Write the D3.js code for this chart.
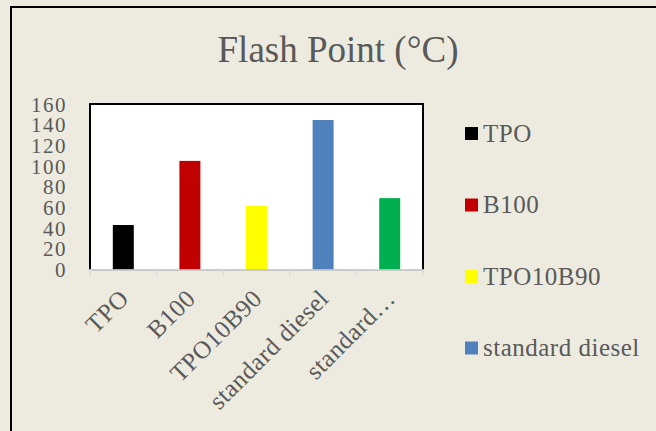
<!DOCTYPE html>
<html><head><meta charset="utf-8">
<script src="https://cdn.jsdelivr.net/npm/d3@7"></script>
<style>html,body{margin:0;padding:0;background:#EDEBE0;overflow:hidden}</style>
</head><body>
<svg id="c" width="656" height="431"></svg>
<script>
const categories = ["TPO", "B100", "TPO10B90", "standard diesel", "standard…"];
const values = [43, 105, 61.5, 144.5, 69];
const colors = ["#000000", "#C00000", "#FFFF00", "#4F81BD", "#00B050"];
const legendLabels = ["TPO", "B100", "TPO10B90", "standard diesel"];
const yTicks = [0, 20, 40, 60, 80, 100, 120, 140, 160];
const title = "Flash Point (°C)";

(function () {
const font = "'Liberation Serif', 'Times New Roman', serif";
const textColor = "#595959";
const svg = d3.select("#c");

svg.append("rect").attr("x", 0).attr("y", 0).attr("width", 656).attr("height", 431).attr("fill", "#EDEBE0");
svg.append("rect").attr("x", 11).attr("y", 7).attr("width", 700).attr("height", 500)
  .attr("fill", "#EDEBE0").attr("stroke", "#000").attr("stroke-width", 2);

const pl = 90, pr = 423, pt = 104, pb = 269.5;
const x = d3.scaleBand().domain(categories).range([pl, pr]).paddingInner(0.685).paddingOuter(0.3425);
const y = d3.scaleLinear().domain([0, 160]).range([pb, pt]);

svg.append("text").attr("x", 338).attr("y", 62).attr("text-anchor", "middle")
  .attr("font-family", font).attr("font-size", 37).attr("fill", textColor).text(title);

svg.append("rect").attr("x", pl).attr("y", pt).attr("width", pr - pl).attr("height", pb - pt).attr("fill", "#fff");

svg.selectAll(".bar").data(values).enter().append("rect")
  .attr("x", (d, i) => x(categories[i])).attr("width", x.bandwidth())
  .attr("y", d => y(d)).attr("height", d => y(0) - y(d))
  .attr("fill", (d, i) => colors[i]);

svg.append("path").attr("d", `M${pl},${pb} V${pt} H${pr} V${pb}`)
  .attr("fill", "none").attr("stroke", "#000").attr("stroke-width", 2);

const step = (pr - pl) / categories.length;
const xAxis = svg.append("g");
xAxis.append("line").attr("x1", pl).attr("x2", pr).attr("y1", pb + 0.5).attr("y2", pb + 0.5)
  .attr("stroke", "#BFBFBF").attr("stroke-width", 1.5);
d3.range(categories.length + 1).forEach(i => {
  const tx = pl + step * i;
  xAxis.append("line").attr("x1", tx).attr("x2", tx).attr("y1", pb).attr("y2", pb + 6)
    .attr("stroke", "#D9D9D9").attr("stroke-width", 1.5);
});
svg.selectAll(".xl").data(categories).enter().append("text")
  .attr("transform", d => `translate(${x(d) + x.bandwidth() / 2 + 7},${300}) rotate(-45)`)
  .attr("text-anchor", "end").attr("font-family", font).attr("font-size", 25)
  .attr("letter-spacing", 0.5).attr("fill", textColor)
  .text(d => d);

svg.selectAll(".yl").data(yTicks).enter().append("text")
  .attr("x", 67).attr("y", d => y(d) + 7.5).attr("text-anchor", "end")
  .attr("font-family", font).attr("font-size", 21).attr("letter-spacing", 1.5)
  .attr("fill", textColor).text(d => d);

const lg = svg.append("g");
legendLabels.forEach((l, i) => {
  const cy = 133.5 + i * 71.5;
  lg.append("rect").attr("x", 465).attr("y", cy - 6.5).attr("width", 13).attr("height", 13).attr("fill", colors[i]);
  lg.append("text").attr("x", 483).attr("y", cy + 8).attr("font-family", font).attr("font-size", 25)
    .attr("letter-spacing", 0.5).attr("fill", textColor).text(l);
});
})();
</script>
</body></html>
